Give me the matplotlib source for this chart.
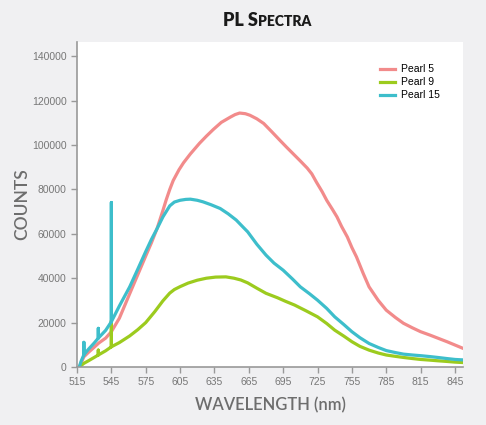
import numpy as np
import matplotlib.pyplot as plt

# wavelength (nm) and counts
wl5 = [517, 521, 525, 530, 534, 540, 545, 552, 561, 568, 575, 580, 585, 590, 593, 596, 599, 604,
       608, 614, 622, 628, 634, 641, 649, 653, 657, 662, 666, 672, 678, 685, 692, 698, 704, 710,
       716, 720, 724, 729, 733, 738, 742, 746, 751, 755, 759, 765, 770, 778, 785, 793, 800, 808,
       815, 823, 830, 838, 845, 852]
pearl5 = [0, 4600, 6600, 8900, 10800, 13000, 15900, 22000, 33000, 41500, 50000, 56000, 62500, 70500,
          75500, 80000, 84000, 88800, 92000, 96000, 100800, 104000, 107000, 110200, 112600, 113700,
          114400, 114100, 113400, 111800, 109700, 106000, 102200, 99000, 95900, 92800, 89600, 87000,
          83300, 79000, 75100, 71000, 67600, 63300, 58600, 53800, 49600, 42000, 36100, 30000, 25600,
          22300, 19700, 17600, 15900, 14400, 13000, 11400, 9900, 8400]

wl9 = [517, 521, 525, 530, 533.6, 533.6, 533.6, 540, 545, 545, 545, 552, 561, 568, 575, 583, 590,
       596, 600, 605, 612, 620, 628, 636, 645, 652, 658, 664, 672, 680, 690, 697, 705, 715, 725,
       733, 740, 748, 755, 762, 770, 778, 785, 793, 800, 808, 815, 823, 830, 838, 845, 852]
pearl9 = [0, 1650, 2800, 4300, 5400, 7600, 5400, 7300, 9100, 20800, 9100, 11000, 14000, 16800,
          20000, 25000, 29800, 33300, 34900, 36200, 37800, 39100, 40000, 40500, 40600, 40000, 39200,
          37900, 35500, 33200, 31200, 29600, 27900, 25300, 22600, 19600, 16600, 13900, 11400, 9300,
          7600, 6300, 5400, 4800, 4300, 3800, 3400, 3100, 2800, 2500, 2200, 2000]

wl15 = [517, 518.5, 521, 521, 521, 525, 530, 533.6, 533.6, 533.6, 540, 545, 545, 545, 552, 561,
        568, 575, 580, 584.6, 590, 596, 600, 605, 610, 614, 620, 625, 632, 640, 647, 654, 660, 664,
        672, 680, 687, 695, 703, 710, 718, 725, 733, 740, 748, 755, 762, 770, 778, 785, 793, 800,
        808, 815, 823, 830, 838, 845, 852]
pearl15 = [0, 2500, 5500, 11100, 5500, 8000, 10800, 13000, 17400, 13000, 16500, 20400, 74100, 20400,
           27500, 36100, 44000, 52000, 57500, 62000, 67600, 72600, 74300, 75100, 75500, 75600, 75100,
           74400, 73100, 71400, 69000, 66200, 63000, 60900, 55300, 50400, 46800, 43600, 39700, 36100,
           33000, 30100, 26400, 22600, 19100, 15900, 13200, 10600, 8800, 7400, 6500, 5800, 5400,
           5100, 4700, 4300, 3800, 3400, 3200]

xticks = list(range(515, 846, 30))
yticks = list(range(0, 140001, 20000))

bg = '#f0f0f2'
grey = '#777777'

fig = plt.figure(figsize=(4.86, 4.25), dpi=100, facecolor=bg)
ax = fig.add_axes([77 / 486, 1 - 367 / 425, 386 / 486, 325 / 425])
ax.set_facecolor('white')

ax.plot(wl5, pearl5, color='#f28b8b', lw=2.3, label='Pearl 5', solid_joinstyle='round')
ax.plot(wl9, pearl9, color='#9ccb1e', lw=2.3, label='Pearl 9', solid_joinstyle='round')
ax.plot(wl15, pearl15, color='#3dbecb', lw=2.3, label='Pearl 15', solid_joinstyle='round')

ax.set_xlim(515, 852)
ax.set_ylim(0, 146400)
ax.set_xticks(xticks)
ax.set_yticks(yticks)
ax.tick_params(colors='#999999', labelcolor=grey, labelsize=7.5, length=4, width=1)
for lab in ax.get_xticklabels() + ax.get_yticklabels():
    lab.set_family('Liberation Sans')
for s in ['top', 'right']:
    ax.spines[s].set_visible(False)
for s in ['left', 'bottom']:
    ax.spines[s].set_color('#999999')
    ax.spines[s].set_linewidth(1.2)

ax.set_ylabel('COUNTS', family='Lato', fontsize=12.5, color='#6d6d6d',
              fontweight='semibold', labelpad=1)
ax.set_xlabel('WAVELENGTH (nm)', family='Lato', fontsize=12, color='#6d6d6d',
              fontweight='semibold', labelpad=7)

leg = ax.legend(loc='upper left', bbox_to_anchor=(0.76, 0.96), frameon=False,
                prop={'family': 'Liberation Sans', 'size': 7.5}, handlelength=1.5,
                handletextpad=0.5, labelspacing=0.28)

# small caps title
t1 = fig.text(223 / 486, 1 - 26 / 425, 'PL S', family='Lato', fontweight='heavy',
              fontsize=13, color='#1a1a1a', ha='left', va='baseline')
fig.canvas.draw()
bb = t1.get_window_extent(renderer=fig.canvas.get_renderer())
fig.text((bb.x1 + 0.5) / fig.bbox.width, 1 - 26 / 425, 'PECTRA', family='Lato',
         fontweight='heavy', fontsize=10, color='#1a1a1a', ha='left', va='baseline')

fig.savefig('out.png', dpi=100, facecolor=bg)
